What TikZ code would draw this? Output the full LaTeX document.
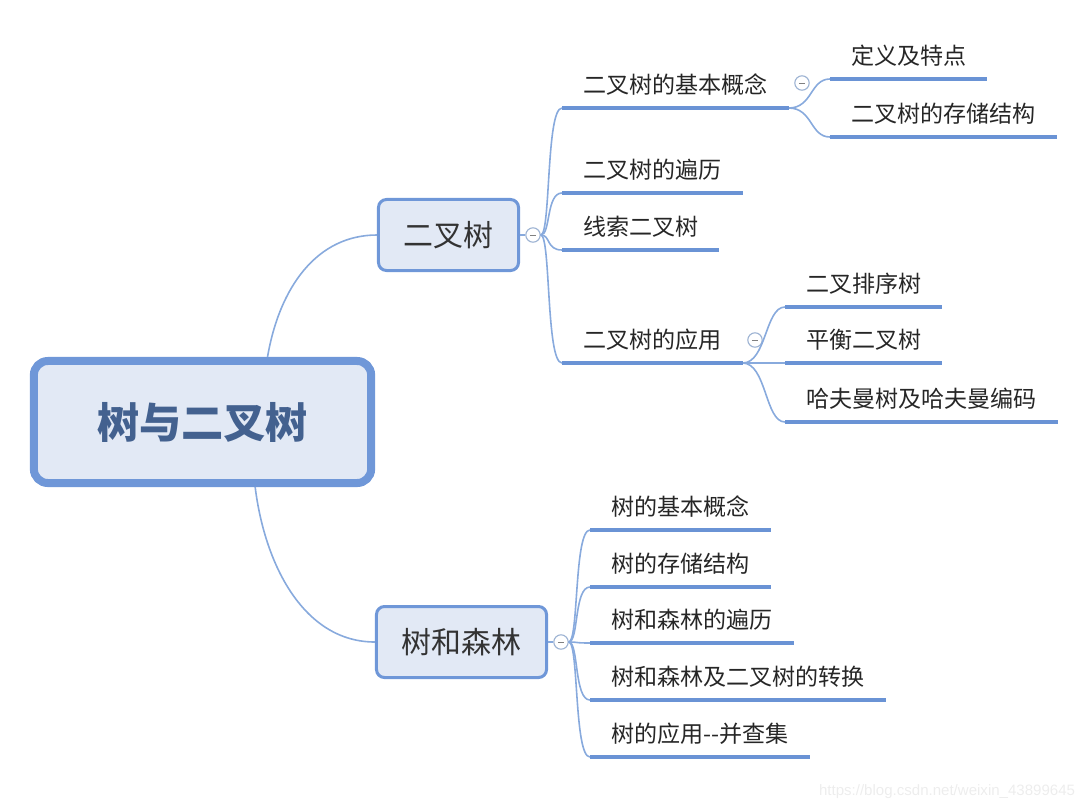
\documentclass[tikz,border=0pt]{standalone}
\usepackage{fontspec}
\setmainfont{Noto Sans CJK SC}
\newfontfamily\wmfont{Liberation Sans}
\definecolor{boxfill}{HTML}{E2E9F5}
\definecolor{boxline}{HTML}{6F97D8}
\definecolor{roottext}{HTML}{43618F}
\definecolor{ulinec}{HTML}{6A93D5}
\definecolor{thinline}{HTML}{88AADD}
\definecolor{foldline}{HTML}{9DB3D3}

\begin{document}
\begin{tikzpicture}[x=0.025cm,y=-0.025cm,
  rootbox/.style={draw=boxline, fill=boxfill, line width=0.2cm, rounded corners=0.35cm,
    minimum width=8.43cm, minimum height=3.05cm, text=roottext,
    font=\fontsize{30pt}{34pt}\selectfont\bfseries},
  topicbox/.style={draw=boxline, fill=boxfill, line width=0.075cm, rounded corners=0.2cm,
    minimum height=1.775cm, text=black!80, font=\fontsize{21.3pt}{24pt}\selectfont},
  leaf/.style={anchor=south west, inner xsep=0.52cm, inner ysep=0pt, text depth=0.36cm,
    text=black!85, font=\fontsize{16.4pt}{19pt}\selectfont},
  fold/.style={circle, draw=foldline, fill=white, line width=0.8pt, minimum size=0.36cm,
    inner sep=0pt, path picture={\draw[gray, line width=0.6pt]
    ([xshift=0.1cm]path picture bounding box.west) -- ([xshift=-0.1cm]path picture bounding box.east);}},
  branch/.style={thinline, line width=0.04cm},
  underline/.style={ulinec, line width=0.1cm}
]
\useasboundingbox (0,0) rectangle (1090,811);

% main topics
\node[rootbox] (root) at (202.5,422) {树与二叉树};
\node[topicbox, minimum width=3.5cm] (bt) at (448.5,235) {二叉树};
\node[topicbox, minimum width=4.25cm] (fl) at (461.5,642) {树和森林};

\node[fold] (btf) at (533,235) {};
\node[fold] (flf) at (561,642) {};

% binary tree
\node[leaf] (jb) at (562,108) {二叉树的基本概念};
\node[leaf] (bl) at (562,193) {二叉树的遍历};
\node[leaf] (xs) at (562,250) {线索二叉树};
\node[leaf] (yy) at (562,363) {二叉树的应用};

\node[fold] (jbf) at (802,83) {};
\node[leaf] (dy) at (830,79) {定义及特点};
\node[leaf] (cc) at (830,137) {二叉树的存储结构};

\node[fold] (yyf) at (755,340) {};
\node[leaf] (px) at (785,307) {二叉排序树};
\node[leaf] (ph) at (785,363) {平衡二叉树};
\node[leaf] (hf) at (785,422) {哈夫曼树及哈夫曼编码};

% trees and forests
\node[leaf] (t1) at (590,530) {树的基本概念};
\node[leaf] (t2) at (590,587) {树的存储结构};
\node[leaf] (t3) at (590,643) {树和森林的遍历};
\node[leaf] (t4) at (590,700) {树和森林及二叉树的转换};
\node[leaf] (t5) at (590,757) {树的应用-{}-并查集};

\node[font=\wmfont\fontsize{10.7pt}{12pt}\selectfont, text=black!7, anchor=east] (wm) at (1080,792) {https://blog.csdn.net/weixin\_43899645};

% connectors
\draw[branch] (root.45) .. controls +(12,-70) and +(-60,0) .. (bt.west);
\draw[branch] (root.-51) .. controls +(10,80) and +(-70,0) .. (fl.west);
\draw[branch] (bt.east) -- (btf);
\draw[branch] (fl.east) -- (flf);
\foreach \n in {jb,bl,xs,yy}
  \draw[branch] (btf.east) .. controls +(10,0) and +(-16,0) .. (\n.south west);
\foreach \n in {t1,t2,t3,t4,t5}
  \draw[branch] (flf.east) .. controls +(10,0) and +(-16,0) .. (\n.south west);
\foreach \n in {dy,cc}
  \draw[branch] (jb.south east) .. controls +(24,0) and +(-20,0) .. (\n.south west);
\foreach \n in {px,ph,hf}
  \draw[branch] (yy.south east) .. controls +(24,0) and +(-20,0) .. (\n.south west);

\foreach \n in {jb,bl,xs,yy,dy,cc,px,ph,hf,t1,t2,t3,t4,t5}
  \draw[underline] (\n.south west) -- (\n.south east);

\end{tikzpicture}
\end{document}
